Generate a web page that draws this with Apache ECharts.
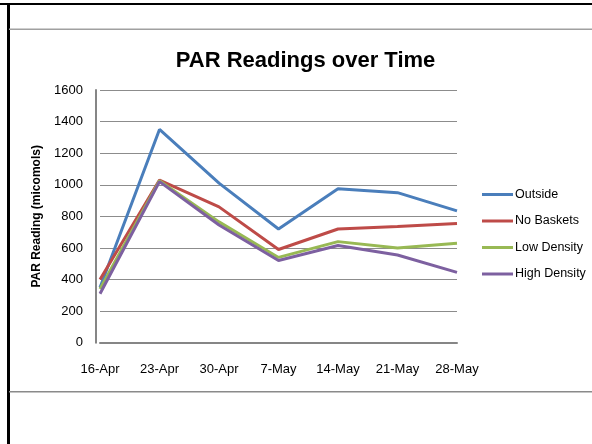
<!DOCTYPE html>
<html>
<head>
<meta charset="utf-8">
<script src="https://cdn.jsdelivr.net/npm/echarts@6/dist/echarts.min.js"></script>
<style>html,body{margin:0;padding:0;background:#fff}#c{width:592px;height:444px}</style>
</head>
<body>
<div id="c"></div>
<script>
var categories = ['16-Apr', '23-Apr', '30-Apr', '7-May', '14-May', '21-May', '28-May'];
var outside = [350, 1350, 1010, 720, 975, 950, 835];
var noBaskets = [400, 1030, 860, 590, 720, 735, 755];
var lowDensity = [340, 1025, 765, 540, 640, 600, 630];
var highDensity = [310, 1020, 745, 520, 615, 555, 445];
var yTicks = [0, 200, 400, 600, 800, 1000, 1200, 1400, 1600];

var FONT = '"Liberation Sans", Arial, sans-serif';
var chart = echarts.init(document.getElementById('c'));
function mk(name, data, color) {
  return {
    name: name, type: 'line', data: data, symbol: 'none', showSymbol: false,
    lineStyle: { width: 3, color: color }, itemStyle: { color: color },
    emphasis: { disabled: true }, animation: false
  };
}
chart.setOption({
  animation: false,
  backgroundColor: '#fff',
  textStyle: { fontFamily: FONT },
  title: {
    text: 'PAR Readings over Time', left: 300.5, textAlign: 'center', top: 45,
    textStyle: { fontFamily: FONT, fontSize: 22, fontWeight: 'bold', color: '#000' }
  },
  grid: { left: 100, right: 135, top: 90, bottom: 101.3, containLabel: false },
  legend: {
    orient: 'vertical', left: 482, top: 188, padding: 0, icon: 'rect',
    itemWidth: 31, itemHeight: 3, itemGap: 13.5,
    textStyle: { fontFamily: FONT, fontSize: 12.5, color: '#000', padding: [0, 0, 0, -3] },
    data: ['Outside', 'No Baskets', 'Low Density', 'High Density']
  },
  xAxis: {
    type: 'category', data: categories, boundaryGap: false,
    axisLine: { lineStyle: { color: '#868686', width: 2 } },
    axisTick: { show: false },
    axisLabel: { color: '#000', fontFamily: FONT, fontSize: 13, margin: 20 },
    splitLine: { show: false }
  },
  yAxis: {
    type: 'value', min: yTicks[0], max: yTicks[yTicks.length - 1], interval: yTicks[1] - yTicks[0],
    offset: 4,
    name: 'PAR Reading (micomols)', nameLocation: 'middle', nameGap: 48, nameRotate: 90,
    nameTextStyle: { fontFamily: FONT, fontSize: 12, fontWeight: 'bold', color: '#000' },
    axisLine: { show: true, lineStyle: { color: '#868686', width: 2 } },
    axisTick: { show: false },
    axisLabel: { color: '#000', fontFamily: FONT, fontSize: 13, margin: 13, formatter: function (v) { return String(v); } },
    splitLine: { lineStyle: { color: '#8c8c8c', width: 1 } }
  },
  graphic: [
    { type: 'rect', shape: { x: 0, y: 3, width: 592, height: 2 }, style: { fill: '#000' }, silent: true },
    { type: 'rect', shape: { x: 7, y: 3, width: 3, height: 441 }, style: { fill: '#000' }, silent: true },
    { type: 'rect', shape: { x: 9, y: 28.5, width: 583, height: 1.5 }, style: { fill: '#a0a0a0' }, silent: true },
    { type: 'rect', shape: { x: 9, y: 391, width: 583, height: 1.5 }, style: { fill: '#8a8a8a' }, silent: true }
  ],
  series: [
    mk('Outside', outside, '#4A7EBB'),
    mk('No Baskets', noBaskets, '#BE4B48'),
    mk('Low Density', lowDensity, '#98B954'),
    mk('High Density', highDensity, '#7D60A0')
  ]
});
</script>
</body>
</html>
